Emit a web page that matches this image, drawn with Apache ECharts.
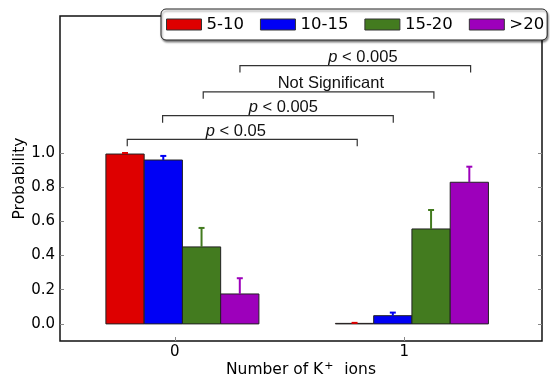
<!DOCTYPE html>
<html>
<head>
<meta charset="utf-8">
<script src="https://cdn.jsdelivr.net/npm/echarts@6/dist/echarts.min.js"></script>
<style>
  html, body {margin: 0; padding: 0; background: #fff;}
  #chart {width: 550px; height: 376px;}
</style>
</head>
<body>
<div id="chart"></div>
<script>
// data
const groups = [0, 1];
const seriesNames = ['5-10', '10-15', '15-20', '>20'];
const prob5_10 = [0.993, 0.003];
const prob10_15 = [0.958, 0.048];
const prob15_20 = [0.450, 0.555];
const probOver20 = [0.175, 0.828];
const err5_10 = [0.006, 0.003];
const err10_15 = [0.024, 0.018];
const err15_20 = [0.111, 0.111];
const errOver20 = [0.092, 0.091];
const yTicks = [0, 0.2, 0.4, 0.6, 0.8, 1.0];
const xTicks = [0, 1];

// significance brackets
const bracketFrom = [-0.207, -0.053, 0.124, 0.284];
const bracketTo = [0.795, 0.952, 1.129, 1.289];
const bracketY = [1.079, 1.217, 1.357, 1.51];
const bracketLabelX = [0.266, 0.473, 0.68, 0.82];
const bracketLabels = ['{i|p} < 0.05', '{i|p} < 0.005', 'Not Significant', '{i|p} < 0.005'];

const colors = ['#de0000', '#0000f5', '#437b1f', '#9d00bb'];
const values = [prob5_10, prob10_15, prob15_20, probOver20];
const errs = [err5_10, err10_15, err15_20, errOver20];

const BAR_W = 1 / 6;
const GROUP_START = -0.3;

const chart = echarts.init(document.getElementById('chart'));

function barRender(i) {
  return function (params, api) {
    const g = api.value(0), v = api.value(1), e = api.value(2);
    const x0 = g + GROUP_START + i * BAR_W;
    const pTop = api.coord([x0, v]);
    const pBase = api.coord([x0 + BAR_W, 0]);
    const c = api.coord([x0 + BAR_W / 2, v]);
    const ce = api.coord([x0 + BAR_W / 2, v + e]);
    return {
      type: 'group',
      children: [
        {
          type: 'rect',
          shape: {
            x: pTop[0], y: Math.min(pTop[1], pBase[1]),
            width: pBase[0] - pTop[0], height: Math.abs(pBase[1] - pTop[1])
          },
          style: {fill: colors[i], stroke: '#222', lineWidth: 1}
        },
        {
          type: 'line',
          shape: {x1: c[0], y1: c[1], x2: ce[0], y2: ce[1]},
          style: {stroke: colors[i], lineWidth: 2}
        },
        {
          type: 'line',
          shape: {x1: ce[0] - 3, y1: ce[1], x2: ce[0] + 3, y2: ce[1]},
          style: {stroke: colors[i], lineWidth: 2}
        }
      ]
    };
  };
}

const barSeries = seriesNames.map((name, i) => ({
  name: name,
  type: 'custom',
  renderItem: barRender(i),
  itemStyle: {color: colors[i]},
  encode: {x: 0, y: 1},
  data: groups.map((g, k) => [g, values[i][k], errs[i][k]]),
  z: 3
}));

const bracketSeries = {
  type: 'custom',
  name: 'brackets',
  encode: {x: [0, 1], y: 2},
  data: bracketY.map((y, k) => [bracketFrom[k], bracketTo[k], y, bracketLabelX[k]]),
  renderItem: function (params, api) {
    const a = api.coord([api.value(0), api.value(2)]);
    const b = api.coord([api.value(1), api.value(2)]);
    const t = api.coord([api.value(3), api.value(2)]);
    return {
      type: 'group',
      children: [
        {
          type: 'polyline',
          shape: {points: [[a[0], a[1] + 7], a, b, [b[0], b[1] + 7]]},
          style: {stroke: '#333', lineWidth: 1.2, fill: null}
        },
        {
          type: 'text',
          x: t[0], y: t[1] - 8,
          style: {
            text: bracketLabels[params.dataIndex],
            align: 'center', verticalAlign: 'middle',
            fontFamily: 'Liberation Sans', fontSize: 16.5, fill: '#111',
            rich: {i: {fontStyle: 'italic', fontFamily: 'Liberation Sans', fontSize: 16.5, fill: '#111'}}
          }
        }
      ]
    };
  },
  z: 4
};

chart.setOption({
  animation: false,
  textStyle: {fontFamily: 'DejaVu Sans'},
  grid: {
    left: 60, right: 8, top: 16, bottom: 35,
    outerBoundsMode: 'none', containLabel: false,
    show: true, borderColor: '#111', borderWidth: 1.5
  },
  legend: {
    data: seriesNames,
    left: 161, top: 9, width: 386,
    padding: [7, 3, 7, 5],
    itemGap: 16,
    itemWidth: 35, itemHeight: 11,
    icon: 'rect',
    itemStyle: {borderColor: '#333', borderWidth: 1},
    textStyle: {fontFamily: 'DejaVu Sans', fontSize: 16.5, color: '#000'},
    backgroundColor: '#fff',
    borderColor: '#222', borderWidth: 1, borderRadius: 5,
    shadowColor: 'rgba(0,0,0,0.45)', shadowBlur: 2, shadowOffsetX: 1, shadowOffsetY: 2,
    selectedMode: false
  },
  xAxis: {
    type: 'value', min: -0.5, max: 1.6,
    name: 'Number of K{sup|+}  ions',
    nameLocation: 'middle', nameGap: 20, nameMoveOverlap: false,
    nameTextStyle: {
      fontFamily: 'DejaVu Sans', fontSize: 15.5, color: '#000',
      rich: {sup: {fontFamily: 'DejaVu Sans', fontSize: 11, color: '#000', verticalAlign: 'top', padding: [0, 1, 7, 1]}}
    },
    splitLine: {show: false},
    axisLine: {show: false, onZero: false},
    axisTick: {show: true, inside: true, length: 4, customValues: xTicks, lineStyle: {color: '#888'}},
    axisLabel: {customValues: xTicks, fontSize: 15, color: '#000', margin: 4, fontFamily: 'DejaVu Sans'}
  },
  yAxis: [{
    type: 'value', min: -0.1, max: 1.8,
    name: 'Probability',
    nameLocation: 'middle', nameGap: 32, nameMoveOverlap: false,
    nameTextStyle: {fontFamily: 'DejaVu Sans', fontSize: 15.5, color: '#000'},
    splitLine: {show: false},
    axisLine: {show: false, onZero: false},
    axisTick: {show: true, inside: true, length: 4, customValues: yTicks, lineStyle: {color: '#888'}},
    axisLabel: {
      customValues: yTicks, fontSize: 15, color: '#000', margin: 5, fontFamily: 'DejaVu Sans',
      formatter: v => v.toFixed(1)
    }
  }, {
    type: 'value', min: -0.1, max: 1.8, position: 'right',
    splitLine: {show: false},
    axisLine: {show: false, onZero: false},
    axisTick: {show: true, inside: true, length: 4, customValues: yTicks, lineStyle: {color: '#888'}},
    axisLabel: {show: false}
  }],
  series: barSeries.concat([bracketSeries])
});
</script>
</body>
</html>
